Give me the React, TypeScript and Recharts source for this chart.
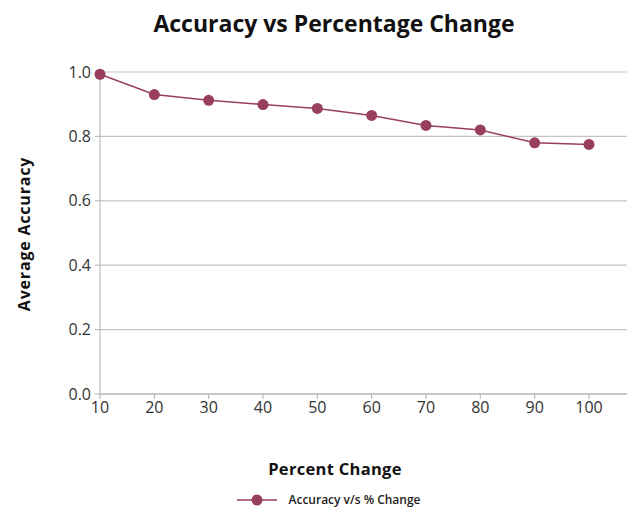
import React from 'react';
import { LineChart, Line, XAxis, YAxis, CartesianGrid, Legend } from 'recharts';

const percentChange = [10, 20, 30, 40, 50, 60, 70, 80, 90, 100];
const accuracy = [0.993, 0.93, 0.912, 0.899, 0.887, 0.865, 0.834, 0.82, 0.78, 0.775];
const xTicks = [10, 20, 30, 40, 50, 60, 70, 80, 90, 100];
const yTicks = [0, 0.2, 0.4, 0.6, 0.8, 1.0];
const seriesName = 'Accuracy v/s % Change';

const data = percentChange.map((p, i) => ({ p, acc: accuracy[i] }));

const COLOR = '#983f60';
const FONT = '"Open Sans", Lato, sans-serif';

const YLabel = () => {
  const cy = 234;
  const x = 24;
  return (
    <text x={x} y={cy} transform={`rotate(-90, ${x}, ${cy})`} textAnchor="middle" dominantBaseline="central"
      style={{ fontFamily: FONT, fontSize: 16, fontWeight: 700, fill: '#111', letterSpacing: 0.8 }}>
      Average Accuracy
    </text>
  );
};

const XLabel = () => (
  <text x={335} y={468} textAnchor="middle" dominantBaseline="central"
    style={{ fontFamily: FONT, fontSize: 16.5, fontWeight: 700, fill: '#111', letterSpacing: 0.3 }}>
    Percent Change
  </text>
);

const LegendContent = () => (
  <div style={{ display: 'flex', justifyContent: 'center', alignItems: 'flex-end', height: 33, paddingLeft: 24, boxSizing: 'border-box' }}>
    <svg width={40} height={14} style={{ marginRight: 11, display: 'block' }}>
      <line x1={0} y1={7} x2={40} y2={7} stroke={COLOR} strokeWidth={1.5} />
      <circle cx={20} cy={7} r={5.5} fill={COLOR} />
    </svg>
    <span style={{ fontFamily: FONT, fontSize: 12, fontWeight: 600, color: '#222', lineHeight: '14px', display: 'block' }}>{seriesName}</span>
  </div>
);

export default function App() {
  return (
    <div style={{ position: 'absolute', left: 0, top: 0, width: 634, height: 507, background: '#fff' }}>
      <div style={{ position: 'absolute', left: 0, top: 7, width: 668, textAlign: 'center', fontFamily: FONT, fontSize: 23, fontWeight: 700, color: '#111' }}>
        Accuracy vs Percentage Change
      </div>
      <LineChart width={634} height={507} data={data} margin={{ top: 72, right: 7, bottom: 0, left: 0 }}>
        <CartesianGrid vertical={false} stroke="#c4c4c4" strokeWidth={1.2} />
        <XAxis dataKey="p" type="number" domain={[10, 107]} ticks={xTicks} interval={0} height={80}
          stroke="#b0b0b0" tickSize={5} tick={{ fill: '#333', fontSize: 16, fontFamily: FONT }} tickMargin={3}
          label={<XLabel />} />
        <YAxis type="number" domain={[0, 1]} ticks={yTicks} width={100} stroke="#b0b0b0" tickSize={5}
          tickFormatter={(v: number) => v.toFixed(1)} tick={{ fill: '#333', fontSize: 16, fontFamily: FONT }}
          tickMargin={4} label={<YLabel />} />
        <Legend verticalAlign="bottom" height={33} content={<LegendContent />}
          wrapperStyle={{ top: 474, bottom: 'auto', left: 0, width: 634, height: 33 }} />
        <Line type="linear" dataKey="acc" name={seriesName} stroke={COLOR} strokeWidth={1.5}
          dot={{ r: 5.5, fill: COLOR, stroke: COLOR, strokeWidth: 0 }} activeDot={false} isAnimationActive={false} />
      </LineChart>
    </div>
  );
}
